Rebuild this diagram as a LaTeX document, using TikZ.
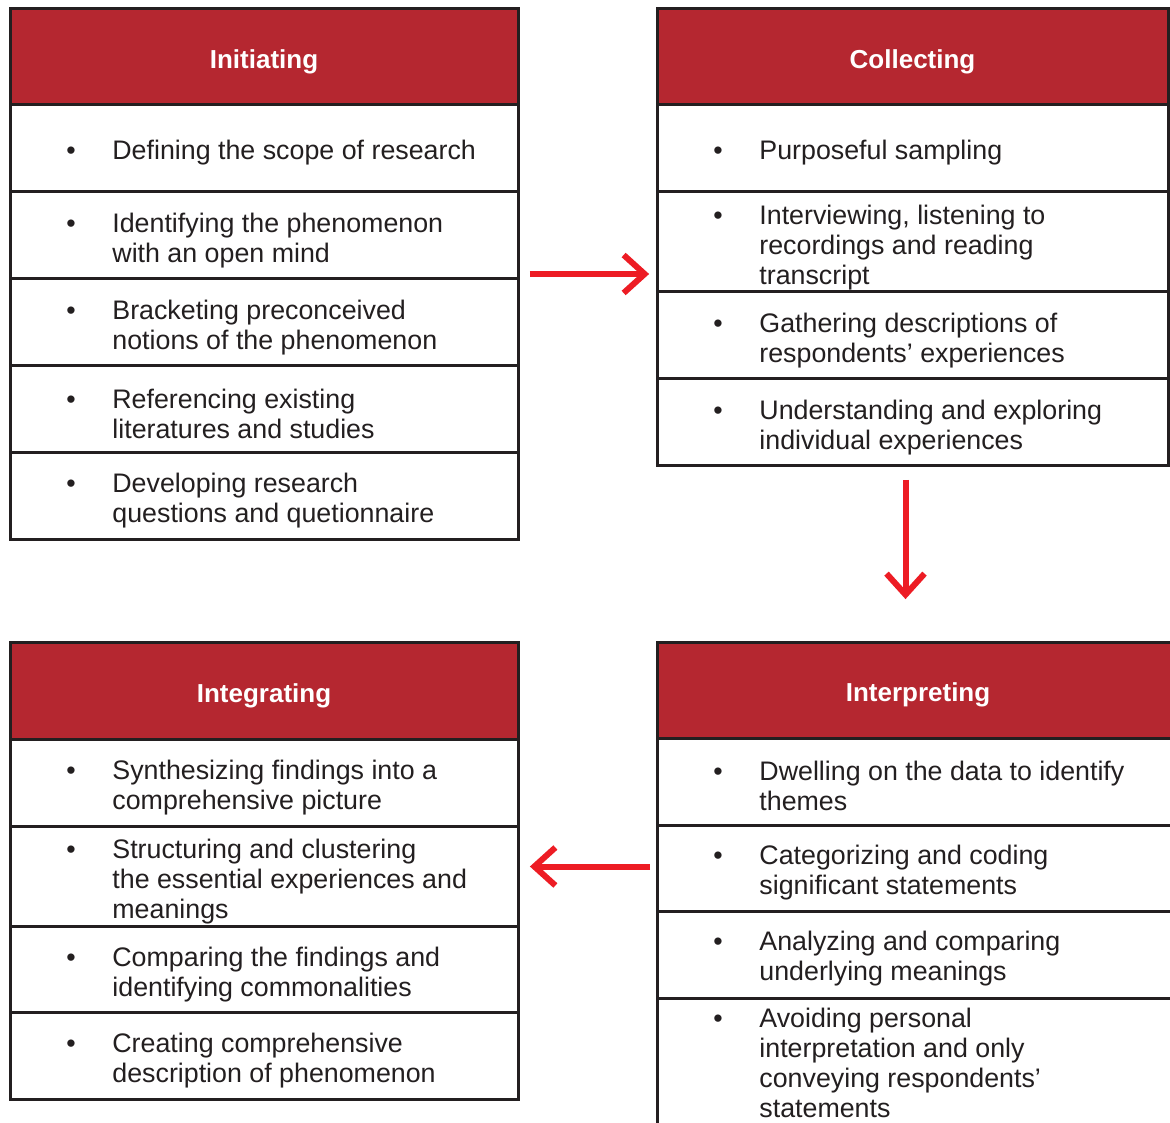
\documentclass[tikz,border=0pt]{standalone}
\usepackage{fontspec}
\setmainfont{Liberation Sans}
\usetikzlibrary{arrows.meta,fit,calc}
\definecolor{hdred}{RGB}{181,39,48}
\definecolor{arred}{RGB}{237,28,36}
\definecolor{bd}{RGB}{35,31,32}
\definecolor{txtc}{RGB}{35,31,32}
\newcommand{\bul}{\llap{\makebox[23pt][l]{\textbullet}}}
\begin{document}
\begin{tikzpicture}[x=0.5pt,y=-0.5pt,
  hdr/.style={draw=bd,fill=hdred,line width=1.5pt,inner sep=0,minimum height=#1},
  rowbox/.style={draw=bd,line width=1.5pt,inner sep=0,minimum height=#1},
  lw/.style={minimum width=254pt},
  cw/.style={minimum width=255.5pt},
  pw/.style={minimum width=261pt},
  htxt/.style={text=white,font=\fontsize{13}{15}\selectfont\bfseries,inner sep=0,yshift=-2.5pt},
  itm/.style={text=txtc,font=\fontsize{13.4}{15}\selectfont,align=left,inner sep=0,anchor=west},
  flowarrow/.style={draw=arred,line width=3pt,-{Straight Barb[length=10.5pt,width=19pt]}}]
\useasboundingbox (0,0) rectangle (1170,1122);
\clip (0,0) rectangle (1170,1122);
\fill[white] (0,0) rectangle (1170,1122);

% ---------- Initiating ----------
\node[hdr=48pt,lw] (ih) at (264,57) {};
\node[htxt] (iht) at (ih.center) {Initiating};
\node[rowbox=43.5pt,lw] (i1) at (264,148.5) {};
\node[rowbox=43.5pt,lw] (i2) at (264,235.5) {};
\node[rowbox=43.5pt,lw] (i3) at (264,322.5) {};
\node[rowbox=43pt,lw] (i4) at (264,409) {};
\node[rowbox=43.5pt,lw] (i5) at (264,495.5) {};
\node[itm] (i1t) at (112,153) {\bul Defining the scope of research};
\node[itm] (i2t) at (112,240.5) {\bul Identifying the phenomenon\\with an open mind};
\node[itm] (i3t) at (112,327.5) {\bul Bracketing preconceived\\notions of the phenomenon};
\node[itm] (i4t) at (112,414) {\bul Referencing existing\\literatures and studies};
\node[itm] (i5t) at (112,501) {\bul Developing research\\questions and quetionnaire};
\node[fit=(ih)(i5),inner sep=0] (init) {};

% ---------- Collecting ----------
\node[hdr=48pt,cw] (ch) at (912.5,57) {};
\node[htxt] (cht) at (ch.center) {Collecting};
\node[rowbox=43.5pt,cw] (c1) at (912.5,148.5) {};
\node[rowbox=50pt,cw] (c2) at (912.5,242) {};
\node[rowbox=43.5pt,cw] (c3) at (912.5,335.5) {};
\node[rowbox=43pt,cw] (c4) at (912.5,422) {};
\node[itm] (c1t) at (759,153) {\bul Purposeful sampling};
\node[itm] (c2t) at (759,248) {\bul Interviewing, listening to\\recordings and reading\\transcript};
\node[itm] (c3t) at (759,341) {\bul Gathering descriptions of\\respondents’ experiences};
\node[itm] (c4t) at (759,428) {\bul Understanding and exploring\\individual experiences};
\node[fit=(ch)(c4),inner sep=0] (coll) {};

% ---------- Integrating ----------
\node[hdr=48.5pt,lw] (gh) at (264,690.5) {};
\node[htxt] (ght) at (gh.center) {Integrating};
\node[rowbox=43.5pt,lw] (g1) at (264,782.5) {};
\node[rowbox=50pt,lw] (g2) at (264,876) {};
\node[rowbox=43pt,lw] (g3) at (264,969) {};
\node[rowbox=43.5pt,lw] (g4) at (264,1055.5) {};
\node[itm] (g1t) at (112,788) {\bul Synthesizing findings into a\\comprehensive picture};
\node[itm] (g2t) at (112,882) {\bul Structuring and clustering\\the essential experiences and\\meanings};
\node[itm] (g3t) at (112,974.5) {\bul Comparing the findings and\\identifying commonalities};
\node[itm] (g4t) at (112,1061) {\bul Creating comprehensive\\description of phenomenon};
\node[fit=(gh)(g4),inner sep=0] (integ) {};

% ---------- Interpreting ----------
\node[hdr=48pt,pw] (ph) at (918,690) {};
\node[htxt] (pht) at (ph.center) {Interpreting};
\node[rowbox=43.5pt,pw] (p1) at (918,781.5) {};
\node[rowbox=43pt,pw] (p2) at (918,868) {};
\node[rowbox=43.5pt,pw] (p3) at (918,954.5) {};
\node[rowbox=71pt,pw] (p4) at (918,1069) {};
\node[itm] (p1t) at (759,786) {\bul Dwelling on the data to identify\\themes};
\node[itm] (p2t) at (759,872.5) {\bul Categorizing and coding\\significant statements};
\node[itm] (p3t) at (759,959) {\bul Analyzing and comparing\\underlying meanings};
\node[itm,anchor=north west] (p4t) at (759,1008) {\bul Avoiding personal\\interpretation and only\\conveying respondents’\\statements};
\node[fit=(ph)(p4),inner sep=0] (interp) {};

% ---------- Arrows ----------
\draw[flowarrow,shorten <=5pt,shorten >=3pt] (init.east) -- (init.east -| coll.west);
\draw[flowarrow,shorten <=6.5pt,shorten >=20.5pt] ([xshift=-3.5pt]coll.south) -- ([xshift=-3.5pt]coll.south |- interp.north);
\draw[flowarrow,shorten <=2.5pt,shorten >=5pt] ([yshift=2pt]integ.east -| interp.west) -- ([yshift=2pt]integ.east);
\end{tikzpicture}
\end{document}
